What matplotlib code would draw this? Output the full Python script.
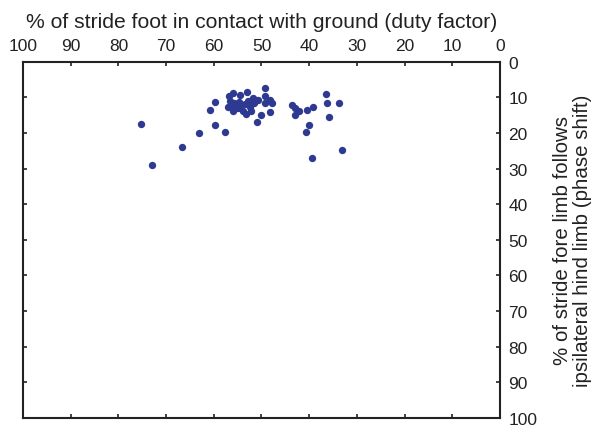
import matplotlib.pyplot as plt

# duty factor (% of stride foot on ground) and phase shift (% of stride)
duty_factor = [75.3, 73.0, 66.6, 63.0, 60.9, 59.7, 59.7, 57.6,
               56.9, 55.9, 54.5, 53.0, 49.2, 49.3, 51.7, 50.7, 49.3, 48.2, 47.9,
               55.8, 55.3, 55.9, 54.5, 53.8, 53.2, 52.4, 52.1, 51.0, 50.2, 48.2,
               56.5, 56.0, 54.8, 53.5, 52.8, 51.5, 55.0, 57.0,
               43.7, 42.9, 43.0, 42.1, 40.5, 39.1, 40.0, 40.7, 39.4,
               36.4, 36.2, 33.7, 35.9, 33.1]
phase_shift = [17.5, 29.1, 23.9, 20.0, 13.6, 11.3, 17.7, 19.8,
               9.7, 8.8, 9.4, 8.6, 7.4, 9.5, 10.1, 10.8, 11.6, 10.8, 11.6,
               11.6, 13.1, 13.8, 12.4, 13.8, 14.7, 12.8, 13.8, 16.8, 15.1, 14.2,
               11.0, 12.5, 11.2, 12.0, 11.0, 11.5, 13.0, 12.8,
               12.1, 13.1, 14.9, 13.8, 13.5, 12.8, 17.8, 19.6, 27.0,
               9.1, 11.7, 11.7, 15.6, 24.9]

ticks = [0, 10, 20, 30, 40, 50, 60, 70, 80, 90, 100]

plt.rcParams['font.family'] = ['Liberation Sans', 'DejaVu Sans']

fig = plt.figure(figsize=(5.96, 4.27), dpi=100)
ax = fig.add_axes([0.0386, 0.0194, 0.8003, 0.8337])

ax.scatter(duty_factor, phase_shift, s=28, color='#2e3a92', linewidths=0, zorder=3)

ax.set_xlim(100, 0)
ax.set_ylim(100, 0)
ax.set_xticks(ticks)
ax.set_yticks(ticks)

ax.xaxis.tick_top()
ax.xaxis.set_label_position('top')
ax.yaxis.tick_right()
ax.yaxis.set_label_position('right')
ax.tick_params(axis='both', direction='in', length=3, width=1.2, labelsize=12.5,
               top=True, bottom=True, left=True, right=True, pad=6, colors='#222222')

for sp in ax.spines.values():
    sp.set_linewidth(1.5)
    sp.set_color('#222222')

ax.set_xlabel('% of stride foot in contact with ground (duty factor)', fontsize=15.2,
              labelpad=8, color='#222222')
ax.set_ylabel('% of stride fore limb follows\nipsilateral hind limb (phase shift)',
              fontsize=14.8, rotation=90, labelpad=11, linespacing=1.1, color='#222222')

fig.savefig('out.png', dpi=100)
